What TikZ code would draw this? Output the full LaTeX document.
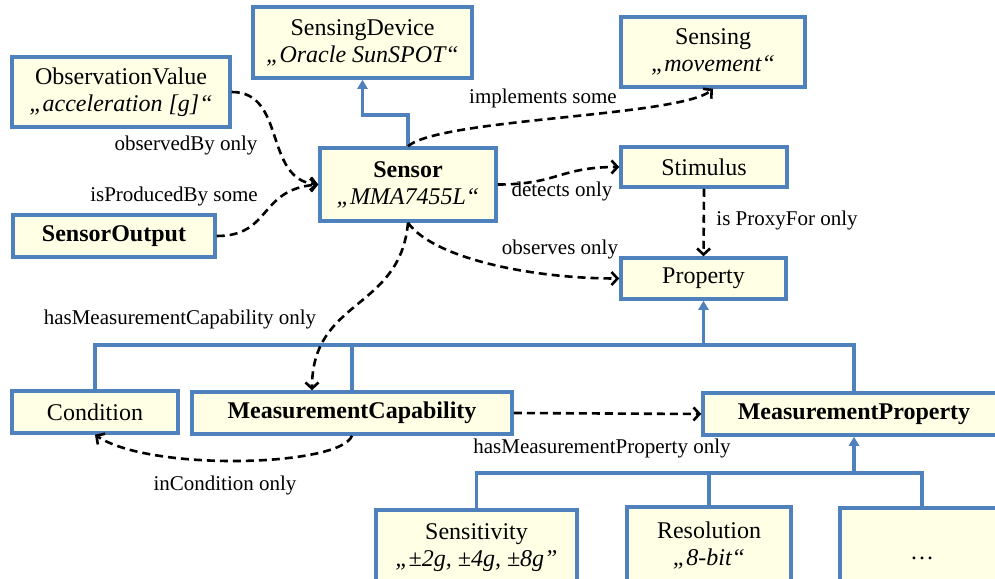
\documentclass[tikz,border=0pt]{standalone}
\usepackage{fontspec}
\setmainfont{Liberation Serif}
\usetikzlibrary{arrows.meta,calc}
\definecolor{bordc}{RGB}{79,129,189}
\definecolor{fillc}{RGB}{255,255,229}
\begin{document}
\begin{tikzpicture}[x=1pt,y=-1pt,
 box/.style={draw=bordc, fill=fillc, line width=3.5pt, inner sep=0pt, align=center, font=\fontsize{24}{27}\selectfont},
 bsz/.style 2 args={minimum width=#1pt, minimum height=#2pt},
 lbl/.style={inner sep=0pt, font=\fontsize{21}{24}\selectfont},
 gen/.style={draw=bordc, line width=3.5pt, -{Triangle[length=9pt,width=10pt]}},
 bus/.style={draw=bordc, line width=3.5pt},
 rel/.style={draw=black, line width=2.6pt, dash pattern=on 8pt off 5pt, -{Straight Barb[length=6pt,width=13pt]}}
]
\useasboundingbox (0,0) rectangle (995,578);
\clip (0,0) rectangle (995,578);

% nodes
\node[box,bsz={219}{71}] (SD) at (362.5,42.5) {SensingDevice\\\textit{„Oracle SunSPOT“}};
\node[box,bsz={184}{70}] (Sensing) at (713,52) {Sensing\\\textit{„movement“}};
\node[box,bsz={218}{70}] (OV) at (121,92) {ObservationValue\\\textit{„acceleration [g]“}};
\node[box,bsz={176}{73}] (Sensor) at (408,184.5) {\textbf{Sensor}\\\textit{„MMA7455L“}};
\node[box,bsz={202}{42}] (SO) at (114,236) {\textbf{SensorOutput}};
\node[box,bsz={166}{40}] (Stim) at (704,167) {Stimulus};
\node[box,bsz={165}{41}] (Prop) at (703.5,278.5) {Property};
\node[box,bsz={166}{42}] (Cond) at (95,412) {Condition};
\node[box,bsz={320}{42}] (MC) at (352,413) {\textbf{MeasurementCapability}};
\node[box,bsz={302}{42}] (MP) at (854,414) {\textbf{MeasurementProperty}};
\node[box,bsz={201}{75}] (Sens) at (476.5,547.5) {Sensitivity\\\textit{„±2g, ±4g, ±8g”}};
\node[box,bsz={164}{77}] (Res) at (709,545.5) {Resolution\\\textit{„8-bit“}};
\node[box,bsz={164}{77}] (More) at (922,546.5) {\mbox{}\\…};

% generalisation lines
\draw[gen] (Sensor.north) -- (Sensor.north |- 0,115) -| (SD.south);
\draw[bus] (Cond.north) |- (MP.north |- 0,345) -- (MP.north);
\draw[bus] (MC.north) -- (MC.north |- 0,345);
\draw[gen] (Prop.south |- 0,345) -- (Prop.south);
\draw[bus] (Sens.north) |- (More.north |- 0,473) -- (More.north);
\draw[bus] (Res.north) -- (Res.north |- 0,473);
\draw[gen] (MP.south |- 0,473) -- (MP.south);

% relations
\draw[rel] (OV.east) .. controls +(55,0) and +(-55,-5) .. (Sensor.west);
\draw[rel] (SO.east) .. controls +(55,0) and +(-60,5) .. (Sensor.west);
\draw[rel] (Sensor.north) .. controls +(32,-28) and +(-33,28) .. (Sensing.south);
\draw[rel] (Sensor.east) .. controls +(60,0) and +(-60,0) .. (Stim.west);
\draw[rel] (Stim.south) -- (Prop.north);
\draw[rel] (Sensor.south) .. controls +(25,35) and +(-90,0) .. (Prop.west);
\coordinate (mcin) at ([xshift=-40pt]MC.north);
\draw[rel] (Sensor.south) .. controls +(-8,88) and +(0,-92) .. (mcin);
\draw[rel] (MC.east) -- (MP.west);
\draw[rel] (MC.south) .. controls +(-12,31) and +(55,37) .. (Cond.south);

% labels
\node[lbl] (l1) at (186,145) {observedBy only};
\node[lbl] (l2) at (174,196) {isProducedBy some};
\node[lbl] (l3) at (543,98) {implements some};
\node[lbl] (l4) at (562,191) {detects only};
\node[lbl] (l5) at (787,220) {is ProxyFor only};
\node[lbl] (l6) at (560,249) {observes only};
\node[lbl] (l7) at (180,319) {hasMeasurementCapability only};
\node[lbl] (l8) at (602,448) {hasMeasurementProperty only};
\node[lbl] (l9) at (225,485) {inCondition only};
\end{tikzpicture}
\end{document}
